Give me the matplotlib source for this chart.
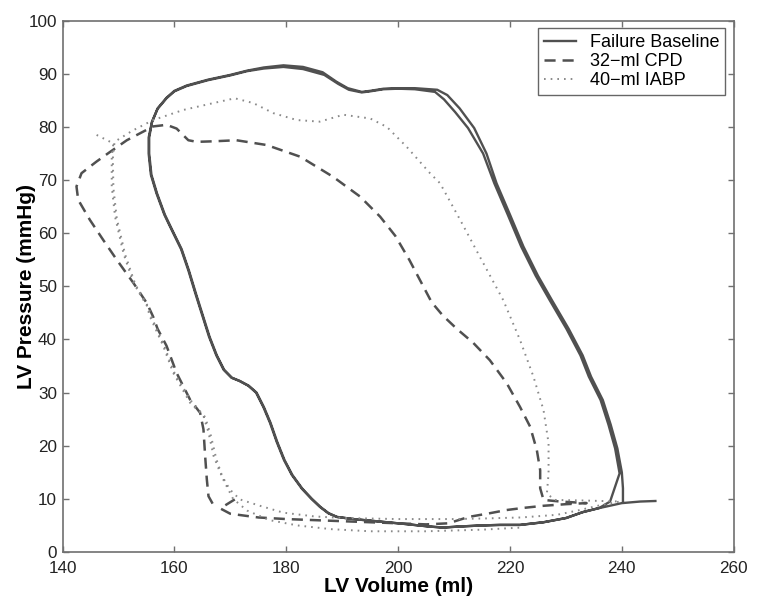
import matplotlib
matplotlib.use("Agg")
import matplotlib.pyplot as plt

# ---------------- data ----------------
series_labels = ["Failure Baseline", "32\u2212ml CPD", "40\u2212ml IABP"]

# Failure Baseline: two consecutive cycles, ending with the diastolic tail
baseline_vol = [
    # cycle 1: ejection side, top, relaxation, filling
    240.2, 240.2, 240.0, 239.2, 238.0, 236.6, 234.5, 233.0, 230.5, 227.5,
    225.0, 222.4, 220.0, 217.6, 215.8, 213.6, 211.0, 208.8, 207.0, 203.0,
    200.0, 197.4, 195.0, 193.5, 191.0, 189.0, 186.5, 183.0, 179.5, 176.0,
    173.0, 170.0, 166.0, 162.2, 160.0, 158.6, 157.0, 156.0, 155.4, 155.4,
    155.8, 156.8, 158.2, 159.8, 161.2, 162.5, 163.8, 165.0, 166.2, 167.5,
    168.8, 170.2, 171.6, 173.2, 174.6, 175.9, 177.1, 178.3, 179.6, 181.0,
    182.8, 184.5, 186.0, 187.5, 189.0, 192.0, 197.0, 201.0, 205.5, 208.0,
    211.0, 215.0, 218.2, 221.8, 226.0, 230.0, 233.0, 236.0, 237.9,
    # cycle 2
    239.6, 238.8, 237.6, 236.2, 234.1, 232.6, 230.1, 227.1, 224.6, 222.0,
    219.6, 217.2, 215.2, 212.5, 210.2, 208.2, 206.6, 203.0, 200.0, 197.4,
    195.0, 193.5, 191.2, 189.3, 186.8, 183.0, 179.5, 176.0, 173.0, 170.0,
    166.0, 162.2, 160.0, 158.6, 157.0, 156.0, 155.5, 155.5, 155.9, 156.9,
    158.3, 159.9, 161.3, 162.6, 163.9, 165.1, 166.3, 167.6, 168.9, 170.3,
    171.7, 173.3, 174.7, 176.0, 177.2, 178.4, 179.7, 181.1, 182.9, 184.6,
    186.1, 187.6, 189.1, 192.0, 197.0, 201.0, 205.5, 208.0, 211.0, 215.0,
    218.2, 221.8, 226.0, 230.1, 233.0, 236.1, 240.0, 243.3, 246.0,
]
baseline_p = [
    9.3, 12.0, 15.0, 19.5, 24.0, 28.6, 33.0, 37.0, 42.0, 47.4,
    52.0, 57.5, 63.5, 69.4, 75.0, 79.8, 83.5, 86.0, 87.0, 87.3,
    87.3, 87.2, 86.8, 86.6, 87.3, 88.5, 90.3, 91.3, 91.6, 91.2,
    90.6, 89.8, 88.9, 87.8, 86.8, 85.5, 83.5, 81.0, 78.0, 75.0,
    71.0, 67.5, 63.5, 60.0, 57.0, 53.0, 48.5, 44.5, 40.5, 37.0,
    34.3, 32.8, 32.2, 31.3, 30.0, 27.3, 24.3, 20.7, 17.3, 14.5,
    11.9, 10.0, 8.5, 7.3, 6.6, 6.2, 5.7, 5.3, 4.8, 4.6,
    4.8, 5.0, 5.1, 5.1, 5.6, 6.4, 7.5, 8.3, 9.5,
    14.8, 19.5, 24.0, 28.6, 33.0, 37.0, 42.0, 47.4, 52.0, 57.5,
    63.5, 69.4, 75.0, 79.8, 82.8, 85.2, 86.6, 87.1, 87.2, 87.1,
    86.7, 86.5, 87.0, 88.1, 89.8, 90.9, 91.3, 91.0, 90.5, 89.7,
    88.8, 87.7, 86.7, 85.4, 83.4, 80.9, 78.0, 75.0, 71.0, 67.5,
    63.5, 60.0, 57.0, 53.0, 48.5, 44.5, 40.5, 37.0, 34.3, 32.8,
    32.2, 31.3, 30.0, 27.3, 24.3, 20.7, 17.3, 14.5, 11.9, 10.0,
    8.5, 7.3, 6.6, 6.2, 5.7, 5.3, 4.8, 4.6, 4.8, 5.0,
    5.1, 5.1, 5.6, 6.4, 7.5, 8.3, 9.2, 9.5, 9.6,
]

# 32-ml CPD
cpd_vol = [
    170.8, 168.2, 170.0, 175.0, 180.0, 185.0, 190.0, 195.0, 200.0, 205.0,
    209.0, 212.6, 216.4, 219.4, 222.4, 226.0, 230.0, 233.7, 229.0, 226.0,
    225.4, 225.4, 224.8, 223.6, 221.8, 219.4, 216.4, 213.4, 210.5, 208.0,
    206.0, 204.0, 202.0, 199.5, 196.8, 193.2, 188.4, 182.5, 176.5, 171.1,
    167.0, 164.0, 162.5, 160.4, 158.6, 156.2, 151.5, 148.5, 146.1, 143.4,
    142.5, 142.8, 144.9, 147.3, 149.7, 152.7, 155.1, 156.2, 157.0, 158.6,
    160.4, 162.8, 164.6, 165.2, 165.5, 165.8, 166.1, 167.0,
]
cpd_p = [
    9.9, 8.2, 7.2, 6.5, 6.2, 6.0, 5.8, 5.6, 5.4, 5.2,
    5.4, 6.6, 7.3, 7.9, 8.3, 8.7, 9.0, 9.2, 9.5, 9.8,
    12.0, 15.4, 19.2, 23.6, 27.3, 31.8, 36.1, 39.4, 42.0, 44.5,
    47.0, 51.0, 55.0, 59.5, 63.1, 66.9, 70.6, 74.4, 76.6, 77.5,
    77.3, 77.2, 77.5, 79.7, 80.4, 80.1, 77.5, 75.3, 73.5, 71.3,
    68.8, 66.3, 62.5, 58.7, 55.0, 50.6, 46.8, 44.3, 42.0, 38.8,
    33.7, 28.7, 26.2, 23.1, 18.1, 13.7, 10.5, 8.8,
]

# 40-ml IABP
iabp_vol = [
    146.1, 149.1, 148.8, 148.8, 149.4, 150.9, 152.7, 155.1, 155.6, 158.0,
    159.8, 162.8, 165.2, 166.1, 167.0, 168.2, 169.9, 171.7, 175.3, 179.5,
    185.0, 190.0, 195.0, 200.0, 205.0, 210.0, 215.0, 222.0, 228.4, 232.5,
    236.1, 239.7, 233.0, 228.0, 226.6, 226.9, 226.9, 226.0, 224.2, 221.8,
    218.8, 214.6, 211.1, 207.5, 205.7, 201.5, 198.0, 195.0, 190.2, 186.0,
    181.9, 177.7, 174.1, 170.8, 167.0, 161.6, 156.2, 152.5, 149.3, 149.0,
    149.1, 149.7, 151.2, 153.0, 155.4, 156.0, 158.3, 160.1, 163.1, 165.5,
    166.5, 167.5, 168.8, 170.5, 173.0, 177.0, 182.0, 188.0, 195.0, 205.0,
    215.0, 222.0,
]
iabp_p = [
    78.5, 76.9, 74.4, 68.8, 63.1, 56.2, 50.6, 46.3, 44.4, 38.8,
    33.7, 28.1, 25.6, 22.5, 18.1, 14.9, 11.8, 9.9, 8.7, 7.4,
    6.7, 6.4, 6.3, 6.2, 6.2, 6.2, 6.3, 6.5, 7.0, 7.9,
    8.8, 9.5, 9.7, 9.8, 11.0, 14.8, 20.5, 26.7, 33.0, 39.9,
    47.4, 55.6, 62.5, 69.4, 71.3, 76.3, 80.0, 81.6, 82.3, 81.0,
    81.3, 82.6, 84.5, 85.4, 84.5, 83.2, 81.3, 79.3, 77.2, 74.0,
    68.5, 62.8, 56.0, 50.4, 46.0, 44.0, 38.5, 33.5, 28.3, 25.4,
    22.0, 17.5, 13.5, 10.0, 7.8, 6.0, 5.0, 4.3, 3.9, 3.9,
    4.2, 4.6,
]

x_ticks = [140, 160, 180, 200, 220, 240, 260]
y_ticks = [0, 10, 20, 30, 40, 50, 60, 70, 80, 90, 100]

# ---------------- figure ----------------
plt.rcParams["font.family"] = ["Liberation Sans", "DejaVu Sans"]
plt.rcParams["lines.scale_dashes"] = False

fig = plt.figure(figsize=(7.64, 6.11), dpi=100)
ax = fig.add_axes([62.5 / 764, 59.0 / 611, 671.2 / 764, 531.3 / 611])

dark = "#505050"
light = "#8a8a8a"

ax.plot(baseline_vol, baseline_p, color=dark, lw=1.7, ls="-",
        solid_joinstyle="round", label=series_labels[0])
ax.plot(cpd_vol, cpd_p, color=dark, lw=1.8, ls=(0, (8.0, 5.0)),
        label=series_labels[1])
ax.plot(iabp_vol, iabp_p, color=light, lw=1.4, ls=(0, (1.2, 3.6)),
        label=series_labels[2])

ax.set_xlim(x_ticks[0], x_ticks[-1])
ax.set_ylim(y_ticks[0], y_ticks[-1])
ax.set_xticks(x_ticks)
ax.set_yticks(y_ticks)

for s in ax.spines.values():
    s.set_color("#707070")
    s.set_linewidth(1.2)

ax.tick_params(direction="in", length=4, width=1.0, color="#707070",
               top=True, right=True, labelsize=12.3, labelcolor="#222222")
ax.tick_params(axis="x", pad=6.5)
ax.tick_params(axis="y", pad=4)

ax.set_xlabel("LV Volume (ml)", fontsize=15, fontweight="bold")
ax.xaxis.set_label_coords(0.5, -(596.5 - 552.0) / 531.3)
ax.xaxis.label.set_va("bottom")
ax.set_ylabel("LV Pressure (mmHg)", fontsize=15, fontweight="bold")
ax.yaxis.set_label_coords(-(62.5 - 36.0) / 671.2, 0.5)

leg = ax.legend(loc="upper right", bbox_to_anchor=(1 - 8.5 / 671.2, 1 - 7.6 / 531.3),
                borderaxespad=0, fontsize=13, frameon=True, fancybox=False,
                handlelength=1.8, handletextpad=0.75, labelspacing=0.12,
                borderpad=0.32)
leg.get_frame().set_edgecolor("#404040")
leg.get_frame().set_linewidth(1.0)

fig.savefig("out.png", dpi=100)
